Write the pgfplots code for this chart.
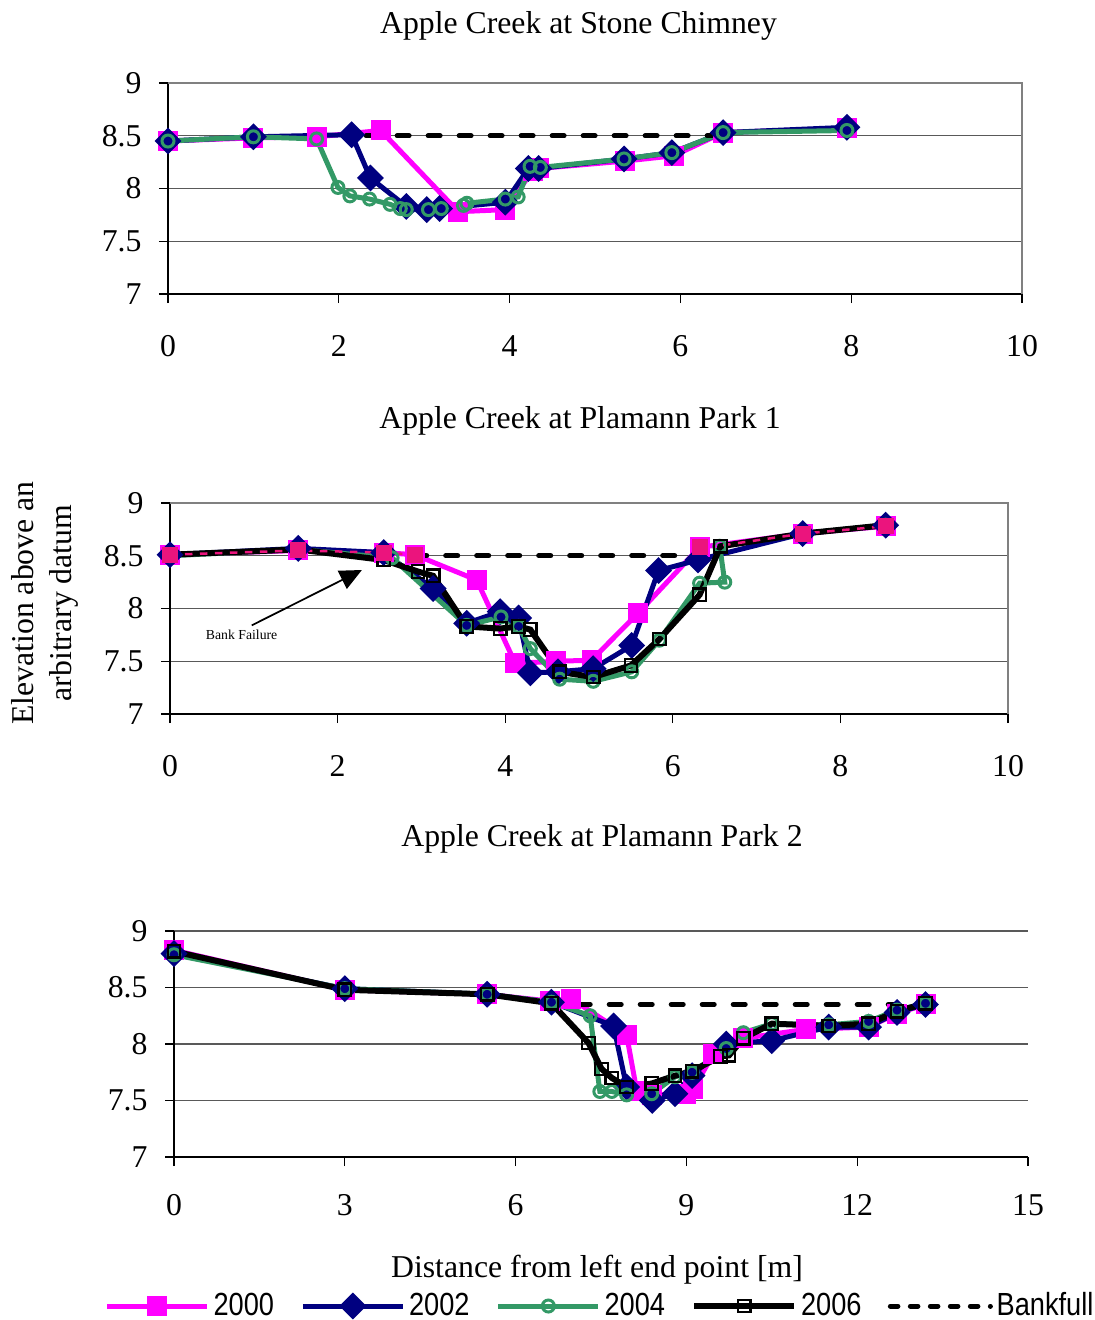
\documentclass[border=0pt]{standalone}
\usepackage{fontspec}
\setmainfont{Liberation Serif}
\newfontfamily\legfont[FakeStretch=0.85]{Liberation Sans}
\usepackage{pgfplots}
\pgfplotsset{compat=1.18}
\usetikzlibrary{arrows.meta}

\definecolor{mag}{RGB}{255,0,255}
\definecolor{nav}{RGB}{0,0,128}
\definecolor{grn}{RGB}{51,153,102}
\definecolor{dpink}{RGB}{235,20,125}

\pgfplotsset{
  s2000/.style={mag, line width=2pt, mark=square*, mark size=3pt, mark options={solid, fill=mag}},
  s2002/.style={nav, line width=2pt, mark=square*, mark size=2.8pt, mark options={solid, rotate=45, fill=nav}},
  s2004/.style={grn, line width=2pt, mark=o, mark size=2.4pt, mark options={solid, line width=1.2pt}},
  s2006/.style={black, line width=2.4pt, mark=square, mark size=2.5pt, mark options={solid, line width=0.9pt}},
  sbank/.style={black, line width=2pt, dash pattern=on 4.8pt off 7.6pt, line cap=round, mark=none},
  panel/.style={
    scale only axis, anchor=north west, clip=false,
    ymin=7, ymax=9, ytick={7,7.5,8,8.5,9},
    axis lines=left, axis line style={-, black, line width=0.5pt},
    ymajorgrids, grid style={gray!70!black, line width=0.5pt},
    tick align=outside, major tick length=3.6pt,
    tick style={black, line width=0.5pt},
    /pgf/number format/assume math mode=true,
    yticklabel style={anchor=east, inner sep=0pt, xshift=-6.8pt},
  },
}

\begin{document}
\begin{tikzpicture}[font=\fontsize{12.7pt}{15.2pt}\selectfont]
\useasboundingbox (0,0) rectangle (438pt,-528pt);

% titles and shared labels
\node[anchor=base] at (231.4pt,-13.2pt) {Apple Creek at Stone Chimney};
\node[anchor=base] at (232pt,-171.2pt) {Apple Creek at Plamann Park 1};
\node[anchor=base] at (240.8pt,-338.4pt) {Apple Creek at Plamann Park 2};
\node[anchor=base] at (238.8pt,-510.8pt) {Distance from left end point [m]};
\node[rotate=90, align=center] at (18pt,-241.2pt) {Elevation above an\\arbitrary datum};

% Stone Chimney
\begin{axis}[panel, at={(67.2pt,-33.2pt)}, width=341.6pt, height=84.4pt,
  xmin=0, xmax=10, xtick={0,2,...,10},
  xticklabel style={anchor=base, yshift=-21.2pt}]
\addplot[s2000] coordinates {(0,8.45) (1,8.48) (1.74,8.49) (2.49,8.55) (3.40,7.78) (3.95,7.80) (4.27,8.17) (4.35,8.19) (5.35,8.26) (5.92,8.31) (6.5,8.53) (7.95,8.57)};
\addplot[s2002] coordinates {(0,8.45) (1,8.49) (2.15,8.51) (2.37,8.10) (2.79,7.83) (3.03,7.80) (3.18,7.81) (3.95,7.87) (4.22,8.19) (4.34,8.19) (5.34,8.28) (5.9,8.34) (6.5,8.53) (7.95,8.58)};
\addplot[s2004] coordinates {(0,8.45) (1,8.49) (1.74,8.47) (1.99,8.01) (2.13,7.93) (2.36,7.90) (2.60,7.85) (2.72,7.81) (2.79,7.80) (3.05,7.80) (3.20,7.81) (3.46,7.84) (3.50,7.86) (3.95,7.90) (4.10,7.92) (4.24,8.21) (4.36,8.20) (5.34,8.28) (5.9,8.34) (6.5,8.53) (7.95,8.55)};
\addplot[sbank] coordinates {(2.32,8.5) (6.5,8.5)};
\draw[gray, line width=1pt] (rel axis cs:0,1) -- (rel axis cs:1,1) -- (rel axis cs:1,0);
\end{axis}

% Plamann Park 1
\begin{axis}[panel, at={(68pt,-201.2pt)}, width=335.2pt, height=84.4pt,
  xmin=0, xmax=10, xtick={0,2,...,10},
  xticklabel style={anchor=base, yshift=-21.2pt}]
\addplot[s2000] coordinates {(0,8.51) (1.53,8.55) (2.55,8.53) (2.92,8.51) (3.66,8.27) (4.12,7.48) (4.61,7.50) (5.03,7.51) (5.59,7.96) (6.32,8.58) (7.55,8.71) (8.54,8.78)};
\addplot[s2002] coordinates {(0,8.51) (1.53,8.57) (2.55,8.53) (3.14,8.19) (3.54,7.86) (3.94,7.97) (4.16,7.91) (4.30,7.39) (4.63,7.40) (5.05,7.43) (5.51,7.65) (5.83,8.36) (6.30,8.46) (7.55,8.71) (8.54,8.79)};
\addplot[s2004] coordinates {(0,8.50) (1.53,8.56) (2.65,8.48) (3.54,7.84) (3.95,7.92) (4.16,7.83) (4.30,7.62) (4.65,7.33) (5.05,7.31) (5.51,7.40) (5.84,7.70) (6.32,8.24) (6.62,8.25) (6.56,8.59) (7.55,8.71) (8.54,8.79)};
\addplot[s2006] coordinates {(0,8.51) (1.53,8.56) (2.55,8.46) (2.96,8.35) (3.14,8.31) (3.54,7.83) (3.94,7.81) (4.16,7.83) (4.30,7.80) (4.65,7.40) (5.05,7.35) (5.50,7.46) (5.84,7.71) (6.32,8.13) (6.57,8.59) (7.55,8.71) (8.54,8.79)};
\addplot[dpink, line width=1pt, dash pattern=on 3pt off 3pt, mark=none] coordinates {(0,8.51) (1.53,8.55) (2.55,8.53) (2.92,8.51)};
\addplot[dpink, line width=1pt, dash pattern=on 3pt off 3pt, mark=none] coordinates {(6.6,8.6) (7.55,8.71) (8.54,8.78)};
\addplot[only marks, mark=square*, mark size=3pt, dpink] coordinates {(0,8.51) (1.53,8.55) (2.55,8.53) (2.92,8.51) (6.32,8.58) (7.55,8.71) (8.54,8.78)};
\addplot[sbank] coordinates {(2.92,8.5) (6.2,8.5)};
\draw[gray, line width=1pt] (rel axis cs:0,1) -- (rel axis cs:1,1) -- (rel axis cs:1,0);
\draw[black, line width=0.7pt, -{Triangle[length=8.8pt, width=8pt]}] (axis cs:0.975,7.84) -- (axis cs:2.29,8.365);
\node[font=\fontsize{5.5pt}{6.5pt}\selectfont] at (axis cs:0.855,7.75) {Bank Failure};
\end{axis}

% Plamann Park 2
\begin{axis}[panel, at={(69.6pt,-372.4pt)}, width=341.6pt, height=90.4pt,
  xmin=0, xmax=15, xtick={0,3,...,15},
  xticklabel style={anchor=base, yshift=-19.6pt},
  legend columns=5,
  legend style={at={(0.5,0)}, anchor=center, yshift=-59.6pt, draw=none,
    font=\legfont\fontsize{12.8pt}{14pt}\selectfont,
    nodes={inner sep=1.5pt},
    /tikz/every even column/.append style={column sep=9pt}},
  legend image code/.code={\draw[mark repeat=2, mark phase=2, #1] plot coordinates {(0pt,0pt) (20pt,0pt) (40pt,0pt)};}]
\addplot[s2000] coordinates {(0,8.83) (3,8.48) (5.5,8.44) (6.6,8.38) (6.98,8.40) (7.95,8.08) (8.13,7.58) (8.4,7.55) (9.0,7.56) (9.12,7.60) (9.47,7.91) (10.0,8.05) (11.1,8.13) (12.2,8.15) (12.7,8.27) (13.2,8.35)};
\addlegendentry{2000}
\addplot[s2002] coordinates {(0,8.80) (3,8.49) (5.5,8.44) (6.63,8.37) (7.72,8.16) (7.95,7.62) (8.4,7.50) (8.8,7.56) (9.1,7.72) (9.7,8.00) (10.5,8.03) (11.5,8.15) (12.2,8.15) (12.7,8.28) (13.2,8.35)};
\addlegendentry{2002}
\addplot[s2004] coordinates {(0,8.79) (3,8.49) (5.5,8.44) (6.63,8.37) (7.31,8.25) (7.48,7.58) (7.69,7.58) (7.95,7.55) (8.39,7.56) (8.8,7.71) (9.1,7.75) (9.7,7.96) (10.0,8.10) (10.5,8.18) (11.5,8.17) (12.2,8.20) (12.7,8.30) (13.2,8.36)};
\addlegendentry{2004}
\addplot[s2006] coordinates {(0,8.82) (3,8.48) (5.5,8.44) (6.63,8.36) (7.28,8.01) (7.51,7.78) (7.69,7.70) (7.95,7.62) (8.39,7.65) (8.8,7.72) (9.1,7.76) (9.6,7.89) (9.75,7.90) (10.0,8.05) (10.5,8.18) (11.5,8.16) (12.2,8.18) (12.7,8.29) (13.2,8.36)};
\addlegendentry{2006}
\addplot[sbank, legend image post style={dash pattern=on 3pt off 5pt}] coordinates {(7.1,8.35) (12.7,8.35)};
\addlegendentry{Bankfull}
\end{axis}
\end{tikzpicture}
\end{document}
